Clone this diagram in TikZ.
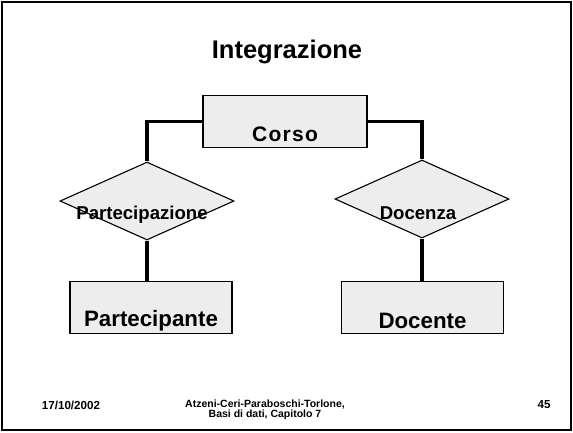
\documentclass[tikz,border=0pt]{standalone}
\usepackage{fontspec}
\setmainfont{Liberation Sans}
\usetikzlibrary{shapes.geometric}
\definecolor{boxgray}{HTML}{EDEDED}
\begin{document}
\begin{tikzpicture}[x=1pt,y=-1pt,
	entity/.style={draw, line width=1.1pt, fill=boxgray, minimum width=162pt, minimum height=52pt, inner sep=0pt},
	relation/.style={draw, diamond, line width=1.1pt, fill=boxgray, minimum width=174pt, minimum height=78pt, inner sep=0pt},
	link/.style={line width=3.5pt},
	etext/.style={font=\fontsize{22.3}{24}\selectfont\bfseries, yshift=-13pt},
	rtext/.style={font=\fontsize{18.6}{20}\selectfont\bfseries, yshift=-14pt},
	foot/.style={font=\fontsize{11.6}{12}\selectfont\bfseries, align=center}]
	\useasboundingbox (0,0) rectangle (573,432);
	\draw[line width=1.5pt] (2,2) rectangle (571,430);
	
	\node[font=\fontsize{25.5}{28}\selectfont\bfseries] (titolo) at (287,52) {Integrazione};
	
	\node[entity, minimum width=164pt, label={[etext, font=\fontsize{21}{23}\selectfont\bfseries]center:\addfontfeature{LetterSpace=6}Corso}] (corso) at (285,121.5) {};
	\node[relation, label={[rtext, xshift=-5pt]center:Partecipazione}] (partecipazione) at (147,201) {};
	\node[relation, label={[rtext, xshift=-4pt]center:Docenza}] (docenza) at (422,199) {};
	\node[entity, label={[etext]center:Partecipante}] (partecipante) at (151,307.5) {};
	\node[entity, label={[etext]center:Docente}] (docente) at (422.5,307.5) {};
	
	\draw[link] (corso.west) -| (partecipazione.north);
	\draw[link] (corso.east) -| (docenza.north);
	\draw[link] (partecipazione.south) -- (partecipazione.south |- partecipante.north);
	\draw[link] (docenza.south) -- (docenza.south |- docente.north);
	
	% pie di pagina
	\node[foot] (data) at (71,405) {17/10/2002};
	\node[foot, font=\fontsize{10.5}{10.5}\selectfont\bfseries] (autori) at (265,410) {Atzeni-Ceri-Paraboschi-Torlone,\\Basi di dati, Capitolo 7};
	\node[foot] (pagina) at (544,405) {45};
\end{tikzpicture}
\end{document}
